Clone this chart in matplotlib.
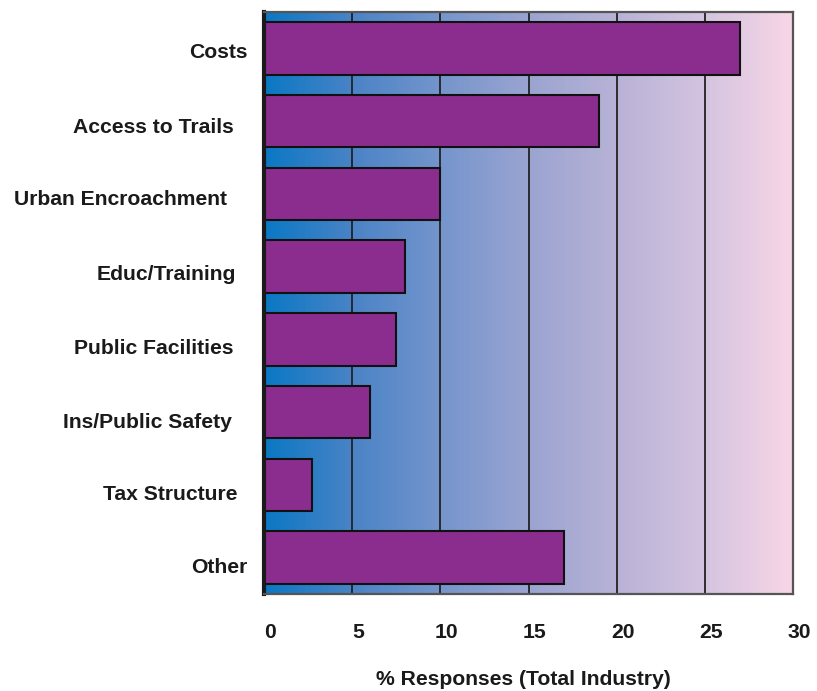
import numpy as np
import matplotlib
matplotlib.use("Agg")
import matplotlib.pyplot as plt
from matplotlib.colors import LinearSegmentedColormap
from matplotlib.transforms import ScaledTranslation

categories = ["Costs", "Access to Trails", "Urban Encroachment", "Educ/Training",
              "Public Facilities", "Ins/Public Safety", "Tax Structure", "Other"]
values = [27.0, 19.0, 10.0, 8.0, 7.5, 6.0, 2.7, 17.0]
xticks = [0, 5, 10, 15, 20, 25, 30]
xlabel = "% Responses (Total Industry)"

# per-label nudges in px: extra gap to the right, and downward drift
label_shift_px = [0, 14, 20, 11, 14, 15, 10, 0]
label_drop_px = [2, 4, 4, 6, 7, 8, 8, 8]

plt.rcParams["font.family"] = ["Liberation Sans", "DejaVu Sans"]

fig = plt.figure(figsize=(8.17, 6.91), dpi=100)
ax = fig.add_axes([264 / 817, 1 - 594 / 691, (793 - 264) / 817, (594 - 12) / 691])

n = len(categories)
ypos = np.arange(n)

# horizontal gradient background
grad_cmap = LinearSegmentedColormap.from_list(
    "bg", ["#0a78c4", "#4a83c6", "#7595cc", "#9aa4d1", "#b8b2d6", "#d4c4e0", "#f8d6e6"])
ax.imshow(np.linspace(0, 1, 512)[None, :], cmap=grad_cmap, aspect="auto",
          extent=[0, 30, n - 0.5, -0.5], zorder=0, interpolation="bicubic")

for x in xticks[1:-1]:
    ax.axvline(x, color="#222222", lw=1.3, zorder=1)

ax.barh(ypos, values, height=0.72, color="#8b2d8f", edgecolor="#111111",
        linewidth=1.5, zorder=2)

ax.set_xlim(0, 30)
ax.set_ylim(n - 0.5, -0.5)

fs = 15.2
ax.set_yticks(ypos)
ax.set_yticklabels(categories, fontsize=fs, fontweight="bold", color="#1a1a1a")
ax.set_xticks(xticks)
ax.set_xticklabels([str(t) for t in xticks], fontsize=fs, fontweight="bold", color="#1a1a1a")
ax.tick_params(axis="y", length=0, pad=12)
ax.tick_params(axis="x", length=0, pad=21)

for lbl, sx, sy in zip(ax.get_yticklabels(), label_shift_px, label_drop_px):
    lbl.set_transform(lbl.get_transform()
                      + ScaledTranslation(-sx / 100, -sy / 100, fig.dpi_scale_trans))
for lbl in ax.get_xticklabels():
    lbl.set_transform(lbl.get_transform() + ScaledTranslation(6 / 100, 0, fig.dpi_scale_trans))

ax.set_xlabel(xlabel, fontsize=fs, fontweight="bold", color="#1a1a1a", labelpad=20)
ax.xaxis.label.set_transform(ax.xaxis.label.get_transform()
                             + ScaledTranslation(-5 / 100, 0, fig.dpi_scale_trans))

for side in ["top", "right", "bottom"]:
    ax.spines[side].set_color("#555555")
    ax.spines[side].set_linewidth(1.6)
ax.spines["left"].set_color("#1a1a1a")
ax.spines["left"].set_linewidth(3)
for sp in ax.spines.values():
    sp.set_zorder(3)

fig.savefig("out.png", dpi=100)
